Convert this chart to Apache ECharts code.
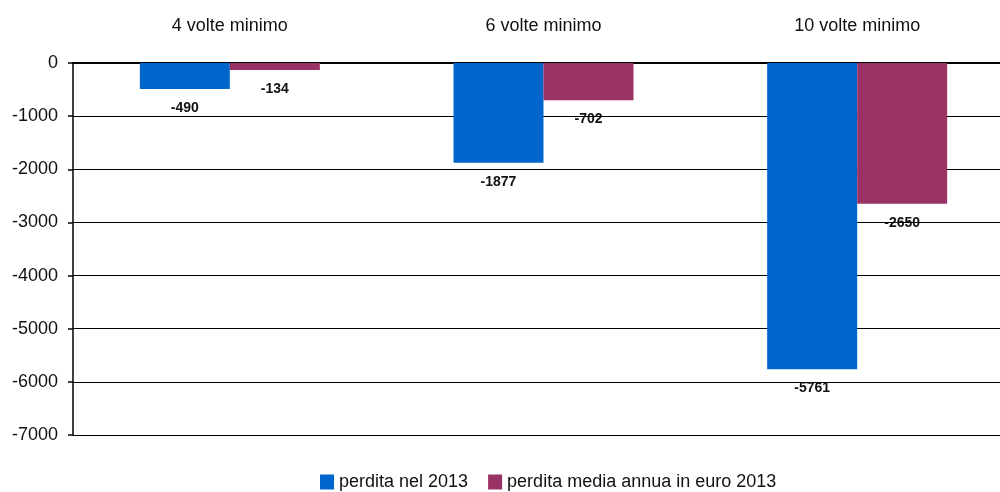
<!DOCTYPE html>
<html>
<head>
<meta charset="utf-8">
<script src="https://cdn.jsdelivr.net/npm/echarts@6/dist/echarts.min.js"></script>
<style>
  html, body { margin: 0; padding: 0; background: #fff; overflow: hidden; }
  /* the plot runs a little past the right edge of the picture, as in the original */
  #chart { width: 1014px; height: 492px; }
</style>
</head>
<body>
<div id="chart"></div>
<script>
var categories = ['4 volte minimo', '6 volte minimo', '10 volte minimo'];
var perdita2013 = [-490, -1877, -5761];
var perditaMedia = [-134, -702, -2650];
var seriesNames = ['perdita nel 2013', 'perdita media annua in euro 2013'];

var font = '"Liberation Sans", Arial, sans-serif';
var myChart = echarts.init(document.getElementById('chart'));

var labelStyle = {
    show: true,
    position: 'bottom',
    distance: 12,
    fontFamily: font,
    fontWeight: 'bold',
    fontSize: 14,
    color: '#111'
};

var option = {
    animation: false,
    textStyle: { fontFamily: font },
    grid: { left: 73, right: 0, top: 63, bottom: 57, containLabel: false },
    legend: {
        top: 468,
        left: 315,
        itemWidth: 14,
        itemHeight: 15,
        itemGap: 20,
        icon: 'rect',
        textStyle: { fontFamily: font, fontSize: 18, color: '#111' },
        data: seriesNames
    },
    xAxis: {
        type: 'category',
        position: 'top',
        data: categories,
        axisLine: { lineStyle: { color: '#000', width: 2 } },
        axisTick: { show: false },
        axisLabel: { fontFamily: font, fontSize: 18, color: '#111', margin: 28 }
    },
    yAxis: {
        type: 'value',
        min: -7000,
        max: 0,
        interval: 1000,
        axisLine: { show: true, lineStyle: { color: '#000', width: 1.5 } },
        axisTick: { show: true, length: 5, lineStyle: { color: '#000', width: 1.5 } },
        splitLine: { lineStyle: { color: '#000', width: 1.2 } },
        axisLabel: {
            fontFamily: font, fontSize: 18, color: '#111', margin: 15,
            formatter: function (v) { return String(v); }
        }
    },
    series: [
        {
            name: seriesNames[0],
            type: 'bar',
            data: perdita2013,
            barWidth: 90,
            barGap: '0%',
            itemStyle: { color: '#0066CC' },
            label: labelStyle
        },
        {
            name: seriesNames[1],
            type: 'bar',
            data: perditaMedia,
            barWidth: 90,
            barGap: '0%',
            itemStyle: { color: '#993366' },
            label: labelStyle
        }
    ]
};
myChart.setOption(option);
window.addEventListener('resize', function () {
    myChart.resize();
});
</script>
</body>
</html>
